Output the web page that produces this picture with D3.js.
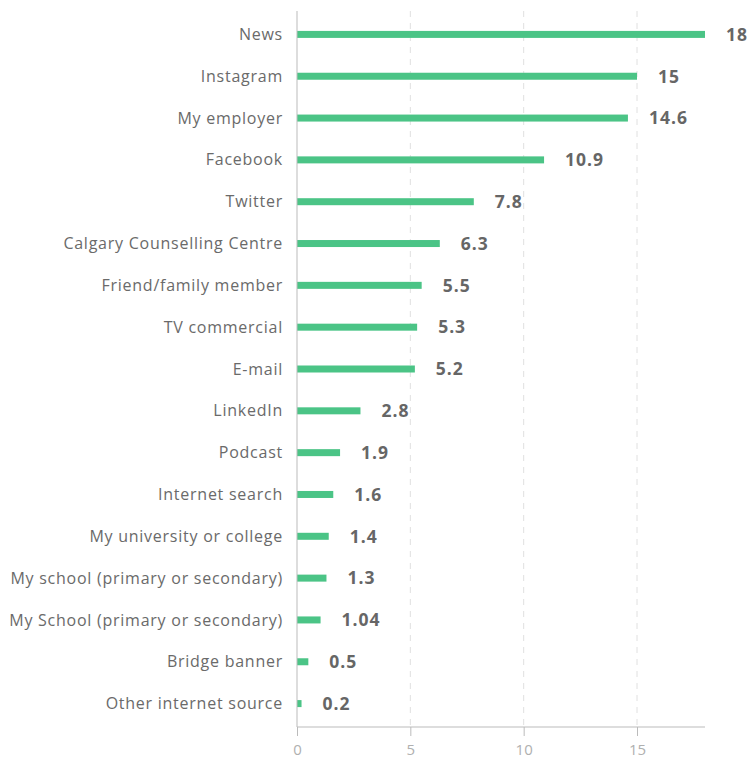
<!DOCTYPE html>
<html>
<head>
<meta charset="utf-8">
<script src="https://cdn.jsdelivr.net/npm/d3@7"></script>
<style>
    body { margin: 0; background: #fff; }
    svg text { font-family: "Open Sans", sans-serif; }
    .cat { fill: #6a6a6a; font-size: 16px; letter-spacing: 0.75px; }
    .val { fill: #666; font-size: 17.5px; font-weight: 700; letter-spacing: 1px; }
</style>
</head>
<body>
<svg id="chart" width="747" height="760"></svg>
<script>
var categories = ["News", "Instagram", "My employer", "Facebook", "Twitter",
    "Calgary Counselling Centre", "Friend/family member", "TV commercial", "E-mail",
    "LinkedIn", "Podcast", "Internet search", "My university or college",
    "My school (primary or secondary)", "My School (primary or secondary)",
    "Bridge banner", "Other internet source"];
var values = [18, 15, 14.6, 10.9, 7.8, 6.3, 5.5, 5.3, 5.2, 2.8, 1.9, 1.6, 1.4, 1.3, 1.04, 0.5, 0.2];
var tickValues = [0, 5, 10, 15];

var svg = d3.select("#chart");
var margin = {top: 11, right: 42, bottom: 33, left: 297};
var width = 747 - margin.left - margin.right;
var height = 760 - margin.top - margin.bottom;

var x = d3.scaleLinear().domain([0, 18]).range([0, width]);
var y = d3.scaleBand().domain(categories).range([2.5, height - 2.5]);

var g = svg.append("g").attr("transform", "translate(" + margin.left + "," + margin.top + ")");

// dashed grid
g.selectAll("line.grid")
    .data(tickValues.slice(1))
    .enter()
    .append("line")
    .attr("x1", function(d) {return x(d);})
    .attr("x2", function(d) {return x(d);})
    .attr("y1", 0)
    .attr("y2", height)
    .attr("stroke", "#e0e0e0")
    .attr("stroke-dasharray", "6,6");

// bars
g.selectAll("rect.bar")
    .data(values)
    .enter()
    .append("rect")
    .attr("x", 0)
    .attr("y", function(d, i) {return y(categories[i]) + y.bandwidth() / 2 - 3.5;})
    .attr("width", function(d) {return x(d);})
    .attr("height", 7)
    .attr("fill", "#4bc486");

// value labels
g.selectAll("text.val")
    .data(values)
    .enter()
    .append("text")
    .classed("val", true)
    .attr("x", function(d) {return x(d) + 21;})
    .attr("y", function(d, i) {return y(categories[i]) + y.bandwidth() / 2;})
    .attr("dy", "0.36em")
    .text(function(d) {return d;});

// category labels
g.selectAll("text.cat")
    .data(categories)
    .enter()
    .append("text")
    .classed("cat", true)
    .attr("x", -14)
    .attr("y", function(d) {return y(d) + y.bandwidth() / 2;})
    .attr("dy", "0.35em")
    .attr("text-anchor", "end")
    .text(function(d) {return d;});

// y axis line
g.append("line")
    .attr("x1", 0).attr("x2", 0)
    .attr("y1", 0).attr("y2", height)
    .attr("stroke", "#bbb");

// x axis
var xAxis = g.append("g")
    .attr("transform", "translate(0," + height + ")")
    .call(d3.axisBottom(x).tickValues(tickValues).tickSize(9).tickPadding(8));
xAxis.select(".domain").attr("stroke", "#bbb").attr("d", "M0,0H" + width);
xAxis.selectAll(".tick line").attr("stroke", "#bbb");
xAxis.selectAll(".tick text")
    .attr("font-family", "Open Sans")
    .attr("font-size", 15)
    .attr("fill", "#b0b0b0");
</script>
</body>
</html>
